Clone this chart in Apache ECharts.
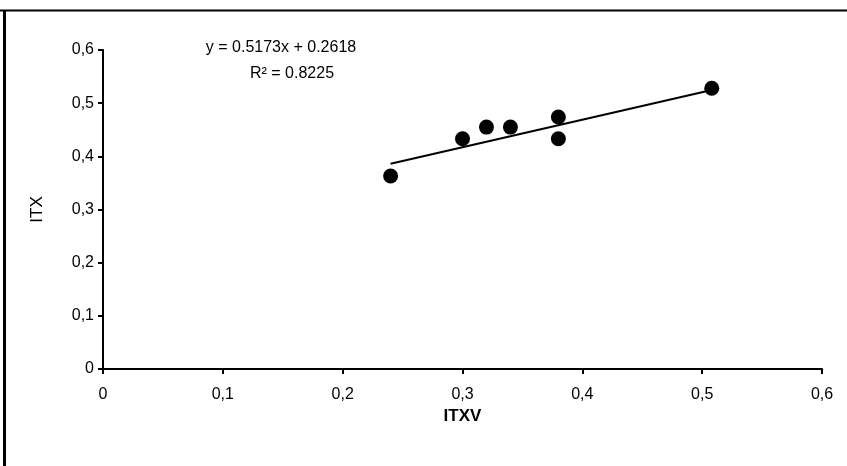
<!DOCTYPE html>
<html>
<head>
<meta charset="utf-8">
<script src="https://cdn.jsdelivr.net/npm/echarts@6/dist/echarts.min.js"></script>
<style>
html,body{margin:0;padding:0;background:#fff;}
#chart{width:847px;height:466px;}
</style>
</head>
<body>
<div id="chart"></div>
<script>
const itxv = [0.24, 0.30, 0.32, 0.34, 0.38, 0.38, 0.508];
const itx = [0.363, 0.433, 0.455, 0.455, 0.474, 0.433, 0.528];
const trendSlope = 0.5173;
const trendIntercept = 0.2618;
const trendR2 = 0.8225;
const xTicks = [0, 0.1, 0.2, 0.3, 0.4, 0.5, 0.6];
const yTicks = [0, 0.1, 0.2, 0.3, 0.4, 0.5, 0.6];
const xTitle = 'ITXV';
const yTitle = 'ITX';

const points = itxv.map((x, i) => [x, itx[i]]);
const xMinData = Math.min.apply(null, itxv);
const xMaxData = Math.max.apply(null, itxv);
const trend = [xMinData, xMaxData].map(x => [x, trendSlope * x + trendIntercept]);
const fmt = v => String(Math.round(v * 10) / 10).replace('.', ',');
const font = 'Liberation Sans, Arial, sans-serif';

const chart = echarts.init(document.getElementById('chart'), null, {renderer: 'canvas'});
chart.setOption({
  animation: false,
  backgroundColor: '#fff',
  grid: {left: 103, right: 25, top: 50, bottom: 97, containLabel: false},
  xAxis: {
    type: 'value', min: xTicks[0], max: xTicks[xTicks.length - 1], interval: 0.1,
    name: xTitle, nameLocation: 'middle', nameGap: 37,
    nameTextStyle: {fontFamily: font, fontSize: 17, fontWeight: 'bold', color: '#000'},
    axisLine: {show: true, onZero: false, lineStyle: {color: '#000', width: 2}},
    axisTick: {show: true, inside: false, length: 5, lineStyle: {color: '#000', width: 2}},
    axisLabel: {formatter: fmt, fontFamily: font, fontSize: 16, color: '#000', margin: 18},
    splitLine: {show: false}
  },
  yAxis: {
    type: 'value', min: yTicks[0], max: yTicks[yTicks.length - 1], interval: 0.1,
    name: yTitle, nameLocation: 'middle', nameGap: 57, nameRotate: 90,
    nameTextStyle: {fontFamily: font, fontSize: 17, color: '#000'},
    axisLine: {show: true, onZero: false, lineStyle: {color: '#000', width: 2}},
    axisTick: {show: true, inside: false, length: 5, lineStyle: {color: '#000', width: 2}},
    axisLabel: {formatter: fmt, fontFamily: font, fontSize: 16, color: '#000', margin: 9},
    splitLine: {show: false}
  },
  series: [
    {
      type: 'line', data: trend, symbol: 'none', silent: true,
      lineStyle: {color: '#000', width: 2}, z: 2
    },
    {
      type: 'scatter', data: points, symbol: 'circle', symbolSize: 15,
      itemStyle: {color: '#000', opacity: 1}, z: 3
    }
  ],
  graphic: [
    {type: 'line', shape: {x1: 0, y1: 10.5, x2: 847, y2: 10.5}, style: {stroke: '#000', lineWidth: 2}},
    {type: 'line', shape: {x1: 4.5, y1: 10, x2: 4.5, y2: 466}, style: {stroke: '#000', lineWidth: 3}},
    {type: 'text', x: 281, y: 48, style: {text: 'y = ' + trendSlope + 'x + ' + trendIntercept, font: '16px ' + font, fill: '#000', textAlign: 'center', textVerticalAlign: 'middle'}},
    {type: 'text', x: 292, y: 74, style: {text: 'R² = ' + trendR2, font: '16px ' + font, fill: '#000', textAlign: 'center', textVerticalAlign: 'middle'}}
  ]
});
</script>
</body>
</html>
